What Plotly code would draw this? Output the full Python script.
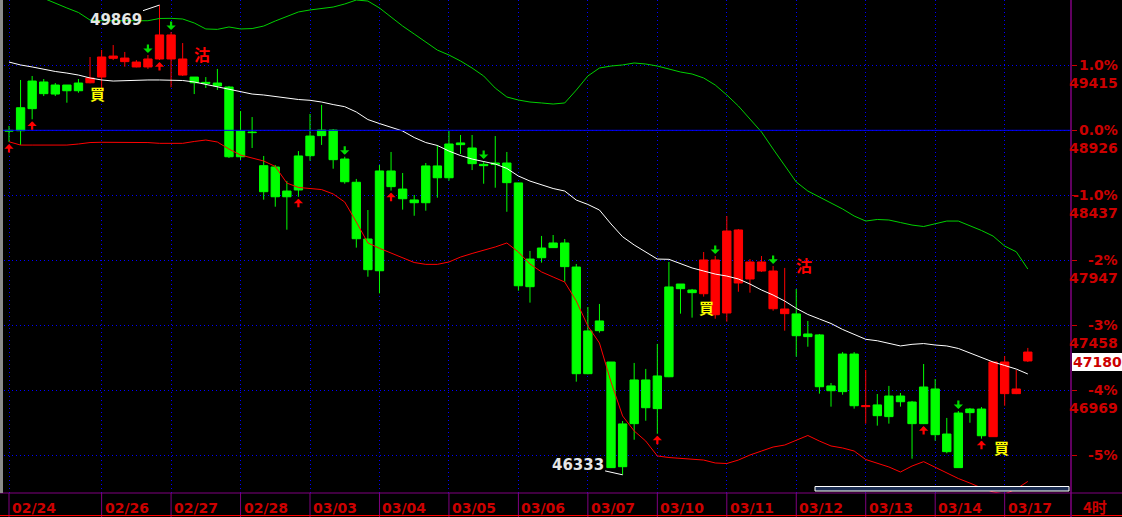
import plotly.graph_objects as go

# ---------------- data ----------------
opens = [48926, 49096, 49297, 49290, 49267, 49267, 49282, 49284, 49327, 49468,
         49443, 49403, 49403, 49463, 49463, 49342, 49327, 49287, 49282, 49252,
         48921, 48913, 48660, 48650, 48469, 48733, 48883, 48928, 48928, 48710,
         48535, 48108, 48620, 48620, 48484, 48402, 48658, 48658, 48823, 48831,
         48793, 48670, 48680, 48680, 48530, 47957, 48040, 48078, 48078, 47897,
         47416, 47491, 47182, 46716, 47047, 47047, 47077, 47747, 47769, 47724,
         47696, 47538, 47551, 47777, 47807, 47867, 47583, 47546, 47544, 47393,
         47386, 47002, 47242, 47242, 46846, 46859, 46926, 46926, 46881, 46994,
         46979, 46640, 46798, 46828, 46828, 46620, 46944, 46944, 47190]
highs = [48959, 49305, 49335, 49312, 49282, 49267, 49312, 49478, 49531, 49568,
         49516, 49455, 49493, 49869, 49666, 49583, 49327, 49327, 49388, 49260,
         49071, 49026, 48733, 48665, 48545, 48770, 49049, 49117, 48936, 48727,
         48560, 48326, 48665, 48763, 48605, 48439, 48680, 48816, 48921, 48891,
         48891, 48695, 48883, 48763, 48530, 48018, 48131, 48138, 48108, 47920,
         47596, 47619, 47182, 46738, 47175, 47130, 47318, 47935, 47769, 47732,
         48010, 47980, 48281, 48183, 47957, 47980, 47905, 47890, 47732, 47491,
         47393, 47024, 47257, 47257, 47122, 46941, 47002, 46949, 46889, 47167,
         47054, 46761, 46813, 46836, 46843, 47182, 47227, 47122, 47288]
lows = [48838, 48816, 49009, 49184, 49184, 49134, 49209, 49280, 49230, 49455,
        49405, 49400, 49388, 49455, 49250, 49335, 49199, 49245, 49230, 48718,
        48703, 48793, 48404, 48351, 48178, 48426, 48697, 48816, 48637, 48524,
        48043, 47824, 47699, 48472, 48329, 48283, 48321, 48419, 48547, 48748,
        48627, 48524, 48494, 48313, 47719, 47629, 47930, 48043, 47787, 47034,
        47090, 47403, 46385, 46333, 46597, 46740, 46642, 47068, 47546, 47516,
        47674, 47508, 47486, 47711, 47704, 47860, 47568, 47418, 47222, 47297,
        46944, 46846, 46936, 46831, 46718, 46703, 46718, 46846, 46454, 46715,
        46590, 46495, 46385, 46725, 46605, 46620, 46853, 46940, 47182]
closes = [48921, 48923, 49089, 49202, 49199, 49224, 49224, 49320, 49478, 49485,
          49470, 49440, 49463, 49644, 49644, 49463, 49284, 49280, 49260, 48727,
          48727, 48909, 48464, 48426, 48426, 48477, 48735, 48886, 48705, 48539,
          48110, 47877, 47869, 48502, 48411, 48381, 48381, 48569, 48569, 48818,
          48675, 48660, 48670, 48532, 47756, 47749, 47967, 48043, 47900, 47094,
          47094, 47418, 46387, 46394, 46718, 46838, 46831, 47071, 47734, 47704,
          47950, 47950, 48168, 48176, 47935, 47935, 47867, 47581, 47380, 47373,
          46996, 46966, 46959, 46853, 46853, 46778, 46771, 46883, 46718, 46718,
          46635, 46507, 46387, 46801, 46627, 47182, 47182, 46979, 47257]

bb_upper = [50027, 50010, 49956, 49918, 49884, 49847, 49813, 49756, 49751, 49751,
            49751, 49751, 49751, 49768, 49769, 49764, 49734, 49689, 49686, 49704,
            49689, 49692, 49711, 49749, 49786, 49817, 49832, 49843, 49854, 49877,
            49907, 49899, 49847, 49779, 49711, 49651, 49591, 49530, 49493, 49448,
            49395, 49335, 49244, 49177, 49154, 49139, 49132, 49124, 49132, 49229,
            49335, 49395, 49410, 49418, 49433, 49425, 49410, 49387, 49365, 49350,
            49320, 49267, 49192, 49109, 49011, 48913, 48785, 48657, 48537, 48469,
            48424, 48379, 48334, 48281, 48243, 48255, 48251, 48232, 48213, 48202,
            48224, 48243, 48243, 48210, 48172, 48130, 48055, 48012, 47882]
bb_mid = [49440, 49418, 49403, 49384, 49369, 49357, 49342, 49320, 49305, 49297,
          49301, 49305, 49305, 49305, 49305, 49301, 49290, 49271, 49252, 49233,
          49214, 49199, 49192, 49180, 49169, 49158, 49152, 49139, 49120, 49104,
          49064, 49007, 48977, 48951, 48921, 48872, 48834, 48812, 48770, 48736,
          48710, 48691, 48672, 48639, 48582, 48544, 48518, 48488, 48469, 48401,
          48368, 48326, 48221, 48125, 48063, 48010, 47957, 47955, 47920, 47890,
          47867, 47844, 47829, 47807, 47769, 47724, 47686, 47641, 47586, 47540,
          47506, 47472, 47427, 47393, 47353, 47342, 47321, 47303, 47315, 47321,
          47310, 47303, 47284, 47250, 47212, 47182, 47156, 47129, 47092]
bb_lower = [48840, 48815, 48815, 48815, 48815, 48815, 48823, 48834, 48836, 48836,
            48836, 48836, 48834, 48828, 48828, 48828, 48842, 48853, 48838, 48785,
            48740, 48715, 48695, 48654, 48529, 48496, 48487, 48480, 48447, 48386,
            48236, 48078, 48038, 48003, 47969, 47931, 47917, 47917, 47935, 47972,
            47999, 48021, 48048, 48078, 48010, 47920, 47860, 47822, 47784, 47641,
            47453, 47325, 47032, 46776, 46663, 46587, 46475, 46463, 46456, 46448,
            46444, 46422, 46418, 46444, 46482, 46512, 46542, 46557, 46595, 46629,
            46587, 46550, 46535, 46512, 46448, 46418, 46392, 46354, 46399, 46432,
            46388, 46343, 46305, 46271, 46234, 46204, 46188, 46226, 46283]

day_idx = [0, 8, 14, 20, 26, 32, 38, 44, 50, 56, 62, 68, 74, 80, 86]
day_labels = ['02/24', '02/26', '02/27', '02/28', '03/03', '03/04', '03/05', '03/06',
              '03/07', '03/10', '03/11', '03/12', '03/13', '03/14', '03/17']

ref_price = 48926
pct_levels = [1.0, 0.0, -1.0, -2.0, -3.0, -4.0, -5.0]
pct_texts = ['1.0%', '0.0%', '-1.0%', '-2%', '-3%', '-4%', '-5%']
price_texts = ['49415', '48926', '48437', '47947', '47458', '46969', '']
last_price = 47180

buy_arrow_idx = [0, 2, 13, 25, 33, 56, 79, 84]
sell_arrow_idx = [12, 14, 29, 41, 61, 66, 82]
buy_sig_idx = [8, 60, 85]
buy_sig_dx = [-4, 3, 8]
buy_sig_dy = [9, 2, 2]
sell_sig_x = [16.7, 68.7]
sell_sig_y = [49497, 47916]
high_mark_idx = 13
low_mark_idx = 53

# ---------------- style ----------------
RED = '#ff0000'
GREEN = '#00ff00'
AX_RED = '#cc0000'
BLUE = '#0000ff'
PURPLE = '#800080'
W, H = 1122, 517
ML, MR, MT, MB = 0, 51, 0, 24
PH = H - MT - MB
NUM_FONT = 'DejaVu Sans'
CJK_FONT = 'Noto Sans CJK TC'

idx = list(range(len(opens)))
levels = [ref_price * (1 + p / 100.0) for p in pct_levels]

fig = go.Figure()
fig.add_trace(go.Candlestick(
    x=idx, open=opens, high=highs, low=lows, close=closes,
    increasing=dict(line=dict(color=RED, width=1), fillcolor=RED),
    decreasing=dict(line=dict(color=GREEN, width=1), fillcolor=GREEN),
    whiskerwidth=0, hoverinfo='skip', showlegend=False))
fig.add_trace(go.Scatter(x=idx, y=bb_upper, mode='lines',
                         line=dict(color='#00d000', width=1), hoverinfo='skip', showlegend=False))
fig.add_trace(go.Scatter(x=idx, y=bb_mid, mode='lines',
                         line=dict(color='#ffffff', width=1), hoverinfo='skip', showlegend=False))
fig.add_trace(go.Scatter(x=idx, y=bb_lower, mode='lines',
                         line=dict(color=RED, width=1), hoverinfo='skip', showlegend=False))

ann = []
shapes = []

# signal arrows (flat-backed head + short stem)
for i in buy_arrow_idx:
    ann.append(dict(x=i, y=lows[i], xref='x', yref='y', text='', showarrow=True,
                    arrowhead=1, arrowsize=0.7, arrowwidth=2.2, arrowcolor=RED,
                    ax=0, ay=10, standoff=0, yshift=-2))
for i in sell_arrow_idx:
    ann.append(dict(x=i, y=highs[i], xref='x', yref='y', text='', showarrow=True,
                    arrowhead=1, arrowsize=0.7, arrowwidth=2.2, arrowcolor='#00dd00',
                    ax=0, ay=-10, standoff=0, yshift=2))

# buy / sell text signals
for i, dx, dy in zip(buy_sig_idx, buy_sig_dx, buy_sig_dy):
    ann.append(dict(x=i, y=lows[i], xref='x', yref='y', text='<b>買</b>', showarrow=False,
                    yanchor='top', xanchor='center', xshift=dx, yshift=dy,
                    font=dict(family=CJK_FONT, size=15, color='#ffff00')))
for sx, sy in zip(sell_sig_x, sell_sig_y):
    ann.append(dict(x=sx, y=sy, xref='x', yref='y', text='<b>沽</b>', showarrow=False,
                    yanchor='middle', xanchor='center',
                    font=dict(family=CJK_FONT, size=16, color=RED)))

# high / low marks
ann.append(dict(x=high_mark_idx, y=highs[high_mark_idx], xref='x', yref='y',
                text='<b>%d</b>' % highs[high_mark_idx], showarrow=True, arrowhead=0,
                arrowwidth=1, arrowcolor='#ffffff', ax=-44, ay=15,
                font=dict(family=NUM_FONT, size=15, color='#e6e6e6')))
ann.append(dict(x=low_mark_idx, y=lows[low_mark_idx], xref='x', yref='y',
                text='<b>%d</b>' % lows[low_mark_idx], showarrow=True, arrowhead=0,
                arrowwidth=1, arrowcolor='#ffffff', ax=-45, ay=-10,
                font=dict(family=NUM_FONT, size=15, color='#e6e6e6')))

# right axis labels
for lv, pt, pr in zip(levels, pct_texts, price_texts):
    ann.append(dict(x=1, y=lv, xref='paper', yref='y', text='<b>%s</b>' % pt,
                    showarrow=False, xanchor='right', yanchor='middle', xshift=MR - 2,
                    font=dict(family=NUM_FONT, size=14, color=AX_RED)))
    if pr:
        ann.append(dict(x=1, y=lv, xref='paper', yref='y', text='<b>%s</b>' % pr,
                        showarrow=False, xanchor='right', yanchor='middle',
                        xshift=MR - 2, yshift=-18,
                        font=dict(family=NUM_FONT, size=14, color=AX_RED)))
ann.append(dict(x=1, y=last_price, xref='paper', yref='y', text='<b>%d</b>' % last_price,
                showarrow=False, xanchor='left', yanchor='middle', xshift=1,
                bgcolor='#ffffff', borderpad=0, bordercolor='#ffffff', borderwidth=1,
                font=dict(family=NUM_FONT, size=14, color=AX_RED)))

# date labels and separators
for d, lab in zip(day_idx, day_labels):
    ann.append(dict(x=d, y=0, xref='x', yref='paper', text='<b>%s</b>' % lab,
                    showarrow=False, xanchor='left', yanchor='top', xshift=1, yshift=-5,
                    font=dict(family=NUM_FONT, size=14, color=AX_RED)))
    shapes.append(dict(type='line', xref='x', yref='paper', x0=d, x1=d,
                       y0=0, y1=-MB / PH, line=dict(color=PURPLE, width=1)))
ann.append(dict(x=1, y=-(MB / 2 + 1) / PH, xref='paper', yref='paper', text='<b>4时</b>',
                showarrow=False, xanchor='left', yanchor='middle', xshift=10,
                font=dict(family=CJK_FONT, size=15, color=AX_RED)))

# frame lines
shapes.append(dict(type='line', xref='paper', yref='y', x0=0, x1=1, y0=ref_price, y1=ref_price,
                   line=dict(color=BLUE, width=1)))
shapes.append(dict(type='line', xref='paper', yref='paper', x0=0, x1=W / (W - MR), y0=0, y1=0,
                   line=dict(color=PURPLE, width=1)))
shapes.append(dict(type='line', xref='paper', yref='paper', x0=0, x1=W / (W - MR),
                   y0=-(MB - 1.5) / PH, y1=-(MB - 1.5) / PH, line=dict(color=RED, width=1)))
shapes.append(dict(type='line', xref='paper', yref='paper', x0=1, x1=1, y0=-MB / PH, y1=1,
                   line=dict(color=PURPLE, width=1.5)))
shapes.append(dict(type='rect', xref='paper', yref='paper', x0=0, x1=3 / (W - MR), y0=0, y1=1,
                   line=dict(width=0), fillcolor='#8a8a8a'))
# scroll bar
shapes.append(dict(type='rect', xref='paper', yref='paper', x0=815 / (W - MR), x1=1069 / (W - MR),
                   y0=2 / PH, y1=6.5 / PH, line=dict(color='#ffffff', width=1), fillcolor='#1c2e52'))

fig.update_layout(
    width=W, height=H,
    margin=dict(l=ML, r=MR, t=MT, b=MB, pad=0),
    paper_bgcolor='#000000', plot_bgcolor='#000000',
    showlegend=False, hovermode=False,
    boxgap=0.28, boxgroupgap=0,
    annotations=ann, shapes=shapes,
    xaxis=dict(range=[-0.777, 91.73], tickvals=day_idx, showticklabels=False, ticks='',
               showgrid=True, gridcolor=BLUE, gridwidth=1, griddash='1px,3px',
               zeroline=False, showline=False, rangeslider=dict(visible=False), fixedrange=True),
    yaxis=dict(range=[46196, 49907], tickvals=levels, showticklabels=False, side='right',
               ticks='outside', ticklen=5, tickcolor=AX_RED, tickwidth=1,
               showgrid=True, gridcolor=BLUE, gridwidth=1, griddash='1px,3px',
               zeroline=False, showline=False, fixedrange=True),
)

fig.write_html("out.html", config={'displayModeBar': False, 'staticPlot': True},
               post_script="document.body.style.margin='0';document.body.style.overflow='hidden';")
